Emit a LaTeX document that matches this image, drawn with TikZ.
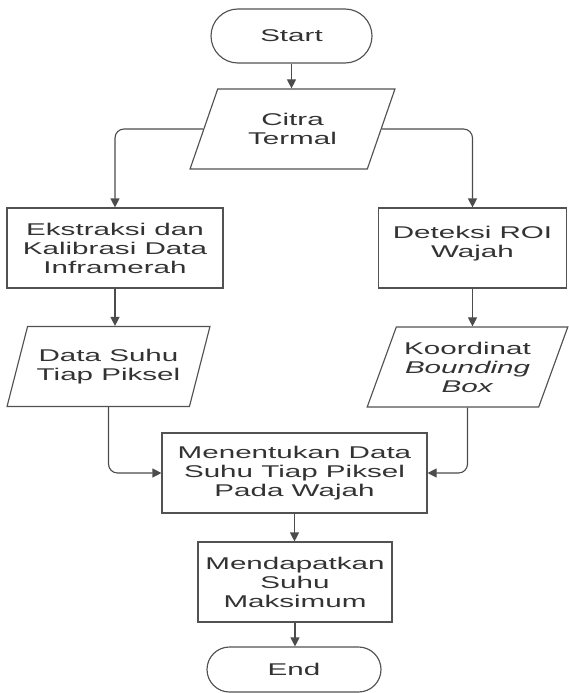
\documentclass[tikz,border=0pt]{standalone}
\usepackage{fontspec}
\setmainfont{Liberation Sans}[FakeStretch=1.74]
\usetikzlibrary{shapes.geometric,shapes.misc,arrows.meta}
\begin{document}
\begin{tikzpicture}[x=1pt,y=-1pt,
  font=\fontsize{17}{19}\selectfont,
  base/.style={draw=black!68, line width=1.15pt, text=black!80, align=center, inner sep=1pt},
  proc/.style={base, rectangle, minimum width=#1, minimum height=80pt},
  term/.style={base, rounded rectangle, minimum width=#1},
  io/.style={base, trapezium, trapezium left angle=63.4, trapezium right angle=116.6,
    trapezium stretches=true, minimum width=#1, minimum height=80pt},
  arr/.style={draw=black!70, line width=1.15pt, -{Triangle[length=9pt,width=9pt]}}
]
\useasboundingbox (0,0) rectangle (568,693);

\node[term=163pt, minimum height=54pt] (start) at (291.5,36) {Start};
\node[io=205pt] (citra) at (292.5,129) {Citra\\Termal};
\node[proc=216pt] (ekstr) at (115,248) {Ekstraksi dan\\Kalibrasi Data\\Inframerah};
\node[proc=188pt] (deteksi) at (472.5,248) {Deteksi ROI\\Wajah\\[-6pt]};
\node[io=203pt] (datas) at (108.5,366.5) {Data Suhu\\Tiap Piksel};
\node[io=201pt] (koord) at (467.5,367) {Koordinat\\\textit{Bounding}\\\textit{Box}};
\node[proc=265pt] (menent) at (294.5,473) {Menentukan Data\\Suhu Tiap Piksel\\Pada Wajah};
\node[proc=194pt] (mendap) at (295,582) {Mendapatkan\\Suhu\\Maksimum};
\node[term=176pt, minimum height=45pt] (end) at (294,669.5) {End};

\draw[arr] (start.south) -- (start.south |- citra.north);
\draw[arr, rounded corners=9pt] (citra.west) -| (ekstr.north);
\draw[arr, rounded corners=9pt] (citra.east) -| (deteksi.north);
\draw[arr] (ekstr.south) -- (ekstr.south |- datas.north);
\draw[arr] (deteksi.south) -- (deteksi.south |- koord.north);
\draw[arr, rounded corners=9pt] (datas.south) |- (menent.west);
\draw[arr, rounded corners=9pt] (koord.south) |- (menent.east);
\draw[arr] (menent.south) -- (menent.south |- mendap.north);
\draw[arr] (mendap.south) -- (mendap.south |- end.north);
\end{tikzpicture}
\end{document}
